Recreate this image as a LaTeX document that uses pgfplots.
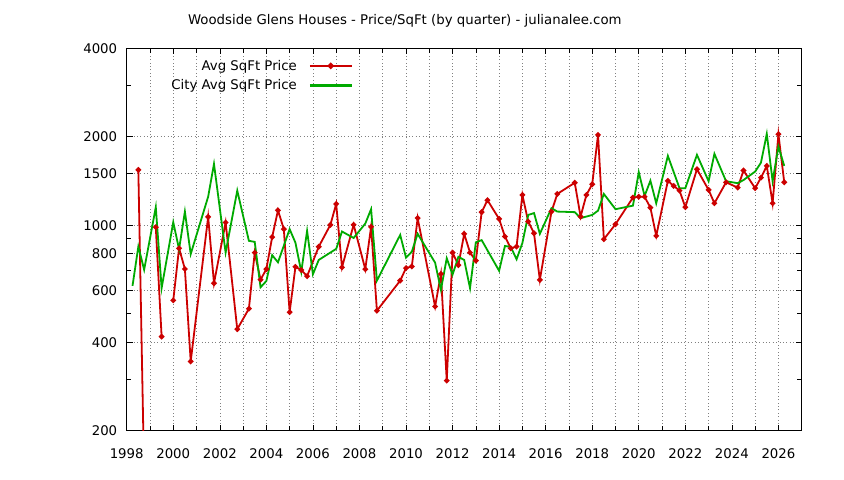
\documentclass[border=0pt]{standalone}
\usepackage{pgfplots}
\pgfplotsset{compat=1.18}
\usepackage{fontspec}
\setmainfont{DejaVu Sans}
\newcommand\f{\fontsize{13.3bp}{15bp}\selectfont}
\definecolor{cred}{RGB}{204,0,0}
\definecolor{cgreen}{RGB}{0,170,0}
\begin{document}
\begin{tikzpicture}
\begin{axis}[
  scale only axis, width=675bp, height=382.4bp,
  xmin=1998, xmax=2027,
  ymode=log, ymin=200, ymax=4000,
  xtick={1998,2000,2002,2004,2006,2008,2010,2012,2014,2016,2018,2020,2022,2024,2026},
  xticklabels={1998,2000,2002,2004,2006,2008,2010,2012,2014,2016,2018,2020,2022,2024,2026},
  minor xtick={1999,2001,2003,2005,2007,2009,2011,2013,2015,2017,2019,2021,2023,2025},
  ytick={200,400,600,800,1000,1500,2000,4000},
  yticklabels={200,400,600,800,1000,1500,2000,4000},
  minor ytick={300,500,700,900,3000},
  xmajorgrids, xminorgrids, ymajorgrids,
  grid style={gray, line width=0.6bp, dash pattern=on 0.8bp off 2.6bp},
  minor grid style={gray, line width=0.6bp, dash pattern=on 0.8bp off 2.6bp},
  tick align=inside,
  major tick length=6bp, minor tick length=4.5bp,
  every tick/.style={black, line width=0.6bp},
  axis line style={black, line width=0.8bp},
  /pgf/number format/assume math mode=true,
  tick label style={font=\f, black},
  xticklabel style={yshift=-14bp},
  yticklabel style={xshift=-6bp},
  title={Woodside Glens Houses - Price/SqFt (by quarter) - julianalee.com},
  title style={font=\f, at={(axis description cs:0.412,1.0557)}, anchor=center},
  unbounded coords=jump,
  legend plot pos=right,
  legend cell align=right,
  legend style={font=\f, draw=none, fill=none, at={(axis description cs:0.34,0.980)}, anchor=north east, row sep=4bp},
]
\addplot[cred, line width=1.8bp, mark=*, mark size=1.8bp, mark options={solid},
  legend image code/.code={\path (0bp,0bp) (52bp,0bp); \draw[cred, line width=2.4bp, mark=*, mark size=1.8bp, mark repeat=2, mark phase=2] plot coordinates {(10bp,0bp)(31bp,0bp)(52bp,0bp)};}] coordinates {
(1998.50,1543) (1998.75,140) (1999.00,nan) (1999.25,985) (1999.50,418) (1999.75,nan)
(2000.00,555) (2000.25,835) (2000.50,710) (2000.75,344) (2001.50,1068) (2001.75,635)
(2002.25,1022) (2002.75,443) (2003.25,520) (2003.50,807) (2003.75,653) (2004.00,709)
(2004.25,912) (2004.50,1124) (2004.75,970) (2005.00,506) (2005.25,722) (2005.50,704)
(2005.75,671) (2006.25,845) (2006.75,1003) (2007.00,1182) (2007.25,719) (2007.75,1004)
(2008.25,709) (2008.50,988) (2008.75,512) (2009.75,648) (2010.00,715) (2010.25,724)
(2010.50,1058) (2011.25,529) (2011.50,683) (2011.75,296) (2012.00,807) (2012.25,732)
(2012.50,935) (2012.75,807) (2013.00,758) (2013.25,1108) (2013.50,1217) (2014.00,1051)
(2014.25,915) (2014.50,835) (2014.75,846) (2015.00,1268) (2015.25,1029) (2015.50,939)
(2015.75,652) (2016.25,1113) (2016.50,1278) (2017.25,1395) (2017.50,1070) (2017.75,1268)
(2018.00,1379) (2018.25,2030) (2018.50,896) (2019.00,1008) (2019.75,1242) (2020.00,1250)
(2020.25,1250) (2020.50,1148) (2020.75,920) (2021.25,1416) (2021.50,1361) (2021.75,1312)
(2022.00,1152) (2022.50,1551) (2023.00,1319) (2023.25,1188) (2023.75,1400) (2024.25,1343)
(2024.50,1535) (2025.00,1337) (2025.25,1452) (2025.50,1592) (2025.75,1188) (2026.00,2041)
(2026.25,1400)
};
\addlegendentry{Avg SqFt Price}
\addplot[cgreen, line width=1.8bp, no marks,
  legend image code/.code={\path (0bp,0bp) (52bp,0bp); \draw[cgreen, line width=2.4bp] (10bp,0bp) -- (52bp,0bp);}] coordinates {
(1998.25,622) (1998.50,846) (1998.75,706) (1999.25,1152) (1999.50,611) (2000.00,1024)
(2000.25,829) (2000.50,1113) (2000.75,798) (2001.50,1251) (2001.75,1617) (2002.25,807)
(2002.75,1312) (2003.25,885) (2003.50,878) (2003.75,615) (2004.00,646) (2004.25,791)
(2004.50,748) (2005.00,970) (2005.25,872) (2005.50,694) (2005.75,957) (2006.00,681)
(2006.25,762) (2007.00,831) (2007.25,952) (2007.75,905) (2008.25,1013) (2008.50,1134)
(2008.75,648) (2009.75,927) (2010.00,776) (2010.25,813) (2010.50,935) (2011.25,746)
(2011.50,603) (2011.75,772) (2012.00,679) (2012.25,781) (2012.50,762) (2012.75,611)
(2013.00,875) (2013.25,890) (2014.00,700) (2014.25,850) (2014.50,844) (2014.75,766)
(2015.00,870) (2015.25,1084) (2015.50,1100) (2015.75,935) (2016.25,1143) (2016.50,1113)
(2017.25,1108) (2017.50,1057) (2018.00,1084) (2018.25,1121) (2018.50,1278) (2019.00,1134)
(2019.75,1166) (2020.00,1515) (2020.25,1258) (2020.50,1418) (2020.75,1188) (2021.25,1722)
(2021.75,1337) (2022.00,1337) (2022.50,1736) (2023.00,1412) (2023.25,1750) (2023.75,1412)
(2024.25,1390) (2024.50,1425) (2025.00,1523) (2025.25,1633) (2025.50,2046) (2025.75,1412)
(2026.00,1852) (2026.25,1592)
};
\addlegendentry{City Avg SqFt Price}
\end{axis}
\pgfresetboundingbox
\path[use as bounding box] (-126.7bp,-49.3bp) rectangle (717.3bp,430.7bp);
\end{tikzpicture}
\end{document}
